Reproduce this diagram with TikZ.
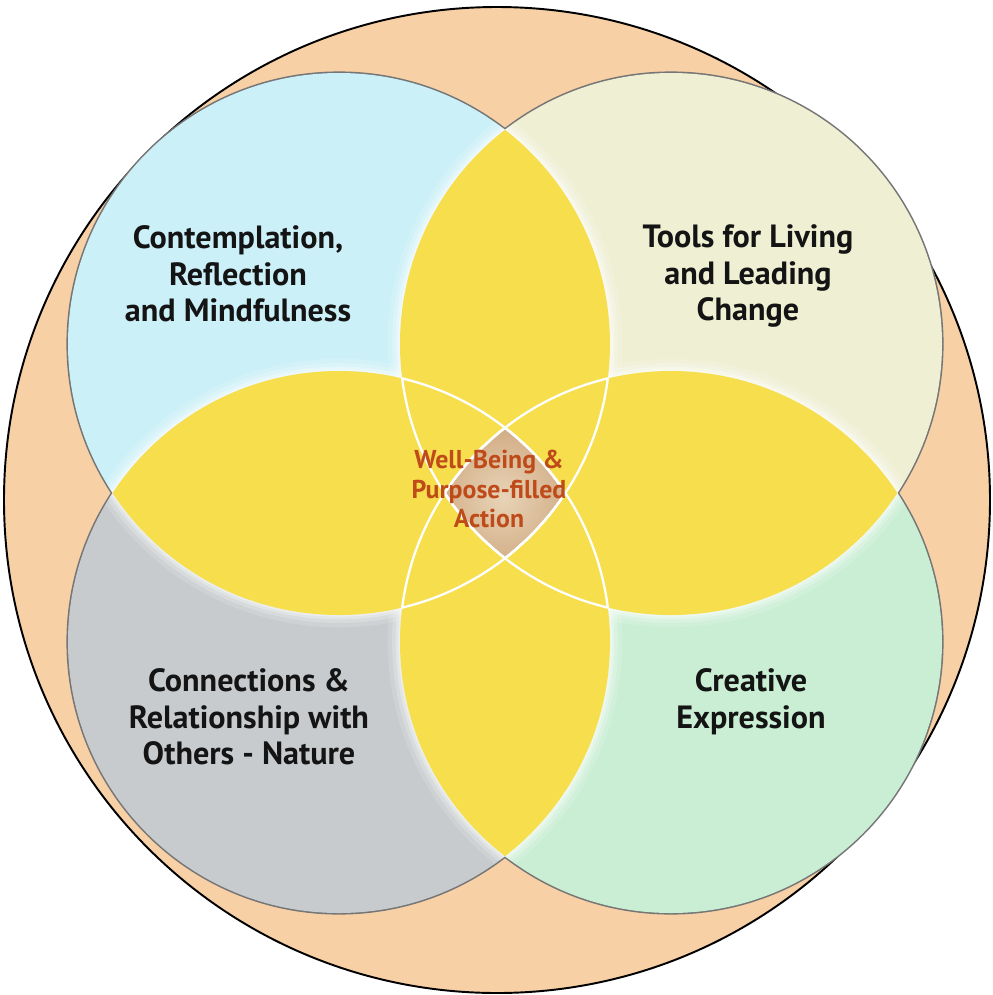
\documentclass[tikz,border=0pt]{standalone}
\usepackage{fontspec}
\setmainfont{PT Sans}
\usepackage{tikz}
\usetikzlibrary{positioning}
\definecolor{peach}{RGB}{248,208,166}
\definecolor{skyzone}{RGB}{204,240,248}
\definecolor{sandzone}{RGB}{239,239,212}
\definecolor{stonezone}{RGB}{200,203,206}
\definecolor{mintzone}{RGB}{202,238,212}
\definecolor{sunzone}{RGB}{247,222,77}
\definecolor{rimgray}{RGB}{118,118,118}
\definecolor{corered}{RGB}{190,75,25}
\definecolor{corelight}{RGB}{232,212,184}
\definecolor{coredark}{RGB}{206,166,124}
\tikzset{
    %Define style for the zone labels
    zone/.style={
           align=center,
           inner sep=0pt,
           text=black!92,
           font=\fontsize{18.3}{20.9}\selectfont\bfseries},
    %Define style for the centre label
    core/.style={
           align=center,
           inner sep=0pt,
           text=corered,
           font=\fontsize{14.7}{16.8}\selectfont\bfseries},
    % Define line styles
    rim/.style={draw=rimgray, line width=1.8pt},
    seam/.style={draw=white, line width=1.3pt},
    glow/.style={draw=white, line width=#1}
}
\def\circrad{271}

\begin{document}
\begin{tikzpicture}[x=0.02cm,y=-0.02cm]
\useasboundingbox (0,0) rectangle (992,995);
 %centres
\coordinate (o) at (497,500);
\coordinate (1) at (339,344);
\coordinate (2) at (671,344);
\coordinate (3) at (339,642);
\coordinate (4) at (671,642);
\filldraw[fill=peach, draw=black, line width=1.1pt] (o) circle (493);
 %discs
\foreach \n in {1,...,4}
    \draw[rim] (\n) circle (\circrad);
\foreach \n/\c in {1/skyzone,2/sandzone,3/stonezone,4/mintzone}
    \fill[\c] (\n) circle (\circrad);
\foreach \i/\j in {1/2,2/1,1/3,3/1,2/4,4/2,3/4,4/3}{
    \begin{scope}
    \clip (\j) circle (\circrad);
    \foreach \w/\a in {14pt/0.14,9pt/0.2,5pt/0.28,2pt/0.35}
        \draw[glow=\w, opacity=\a] (\i) circle (\circrad);
    \end{scope}
}
 %overlaps
\foreach \i/\j in {1/2,1/3,1/4,2/3,2/4,3/4}{
    \begin{scope}
    \clip (\i) circle (\circrad);
    \fill[sunzone] (\j) circle (\circrad);
    \end{scope}
}
\begin{scope}
\clip (1) circle (\circrad);
\clip (2) circle (\circrad);
\clip (3) circle (\circrad);
\clip (4) circle (\circrad);
\shade[inner color=corelight, outer color=coredark] (503,497) circle (80);
\end{scope}
\foreach \i/\j/\k in {1/2/3,1/2/4,1/3/4,2/1/3,2/1/4,2/3/4,3/1/2,3/1/4,3/2/4,4/1/2,4/1/3,4/2/3}{
    \begin{scope}
    \clip (\j) circle (\circrad);
    \clip (\k) circle (\circrad);
    \draw[seam] (\i) circle (\circrad);
    \end{scope}
}
 %labels
\node[zone] (t1) at (238,274) {Contemplation,\\Reflection\\and Mindfulness};
\node[zone] (t2) at (748,276) {Tools for Living\\and Leading\\Change};
\node[zone] (t3) at (249,717) {Connections \&\\Relationship with\\Others - Nature};
\node[zone] (t4) at (751,702) {Creative\\Expression};
\node[core] (t0) at (489,489) {Well-Being \&\\Purpose-filled\\Action};
\end{tikzpicture}
\end{document}
